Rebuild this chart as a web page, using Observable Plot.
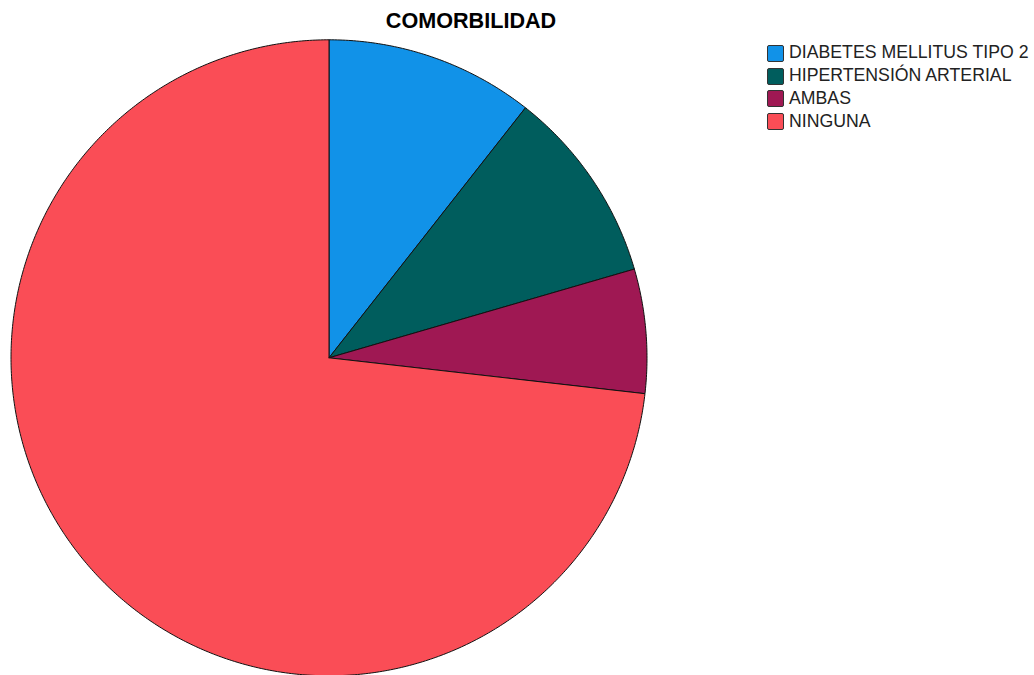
<!DOCTYPE html>
<html>
<head>
<meta charset="utf-8">
<script src="https://cdn.jsdelivr.net/npm/d3@7"></script>
<script src="https://cdn.jsdelivr.net/npm/@observablehq/plot@0.6"></script>
<style>
  body { margin: 0; background: #fff; font-family: "Liberation Sans", Arial, sans-serif; }
  #wrap { position: relative; width: 1034px; height: 675px; overflow: hidden; }
  #title { position: absolute; left: 0; width: 942px; top: 8px; text-align: center; font-weight: bold; font-size: 21.6px; color: #000; }
  #legend { position: absolute; left: 767px; top: 42px; }
  .row { display: flex; align-items: center; height: 22.7px; }
  .sw { width: 15px; height: 15px; border: 1px solid #333; border-radius: 2px; margin-right: 5px; box-sizing: content-box; }
  .lab { font-size: 17.7px; color: #222; white-space: nowrap; line-height: 1; }
  #chart { position: absolute; left: 0; top: 0; }
</style>
</head>
<body>
<div id="wrap">
  <div id="chart"></div>
  <div id="title">COMORBILIDAD</div>
  <div id="legend"></div>
</div>
<script>
const categories = ["DIABETES MELLITUS TIPO 2", "HIPERTENSIÓN ARTERIAL", "AMBAS", "NINGUNA"];
const percents = [10.6, 9.9, 6.3, 73.2];
const colors = ["#1192e8", "#005d5d", "#9f1853", "#fa4d56"];

// Build slice outlines from the data via d3.pie (clockwise from 12 o'clock)
const arcs = d3.pie().sort(null).value(d => d)(percents);
const points = [];
arcs.forEach((a, i) => {
  const cat = categories[i];
  points.push({cat, x: 0, y: 0});
  const n = Math.max(2, Math.ceil((a.endAngle - a.startAngle) / (Math.PI / 360)));
  for (let k = 0; k <= n; k++) {
    const t = a.startAngle + (a.endAngle - a.startAngle) * k / n;
    points.push({cat, x: Math.sin(t), y: Math.cos(t)});
  }
  points.push({cat, x: 0, y: 0});
});

const chart = Plot.plot({
  width: 1034,
  height: 675,
  marginLeft: 10.5,
  marginRight: 387.5,
  marginTop: 39.3,
  marginBottom: -0.3,
  x: {domain: [-1, 1], axis: null},
  y: {domain: [-1, 1], axis: null},
  color: {domain: categories, range: colors},
  style: {overflow: "visible"},
  marks: [
    Plot.line(points, {x: "x", y: "y", z: "cat", fill: "cat", stroke: "#111", strokeWidth: 1, strokeLinejoin: "round", curve: "linear"})
  ]
});
document.getElementById("chart").appendChild(chart);

const legend = document.getElementById("legend");
categories.forEach((c, i) => {
  const row = document.createElement("div");
  row.className = "row";
  const sw = document.createElement("div");
  sw.className = "sw";
  sw.style.background = colors[i];
  const lab = document.createElement("div");
  lab.className = "lab";
  lab.textContent = c;
  row.appendChild(sw);
  row.appendChild(lab);
  legend.appendChild(row);
});
</script>
</body>
</html>
